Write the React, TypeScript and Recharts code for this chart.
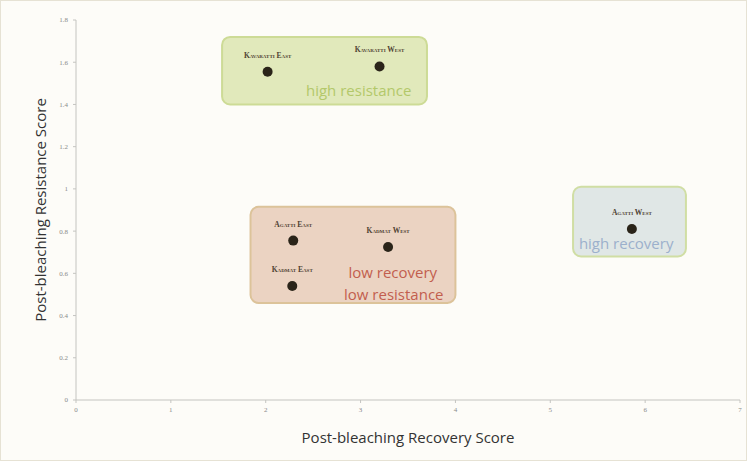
import React from 'react';
import { ScatterChart, Scatter, XAxis, YAxis, ReferenceArea, Label } from 'recharts';

const siteNames = ['Kavaratti East', 'Kavaratti West', 'Agatti East', 'Kadmat West', 'Kadmat East', 'Agatti West'];
const recoveryScores = [2.02, 3.2, 2.29, 3.29, 2.28, 5.86];
const resistanceScores = [1.555, 1.58, 0.755, 0.725, 0.54, 0.81];

const xTicks = [0, 1, 2, 3, 4, 5, 6, 7];
const yTicks = [0, 0.2, 0.4, 0.6, 0.8, 1, 1.2, 1.4, 1.6, 1.8];

const groupNames = ['high resistance', 'low', 'high recovery'];
const groupX1 = [1.54, 1.84, 5.24];
const groupX2 = [3.7, 4.0, 6.43];
const groupY1 = [1.4, 0.46, 0.68];
const groupY2 = [1.72, 0.915, 1.01];
const groupFill = ['#e1e9bb', '#ebd3c2', '#e0e7e6'];
const groupStroke = ['#cddb96', '#dcc39a', '#d0dea4'];

const noteTexts = ['high resistance', 'low recovery', 'low resistance', 'high recovery'];
const noteX = [2.98, 3.34, 3.35, 5.8];
const noteY = [1.47, 0.605, 0.5, 0.745];
const noteColors = ['#b3c86a', '#c25e4e', '#c25e4e', '#9cb0cc'];

const sites = siteNames.map((name, i) => ({ name, x: recoveryScores[i], y: resistanceScores[i] }));
const notes = noteTexts.map((t, i) => ({ t, x: noteX[i], y: noteY[i], c: noteColors[i] }));

const SiteShape = (props: any) => {
  const { cx, cy, payload } = props;
  return (
    <g>
      <circle cx={cx} cy={cy} r={5} fill="#2a2419" />
      <text
        x={cx}
        y={cy - 14}
        textAnchor="middle"
        fontSize={7.5}
        fontWeight="bold"
        fill="#4f4232"
        fontFamily="Liberation Serif, serif"
        style={{ fontVariant: 'small-caps' }}
      >
        {payload.name}
      </text>
    </g>
  );
};

const NoteShape = (props: any) => {
  const { cx, cy, payload } = props;
  return (
    <text x={cx} y={cy} textAnchor="middle" dominantBaseline="central" fontSize={15} fill={payload.c} fontFamily="Open Sans, sans-serif">
      {payload.t}
    </text>
  );
};

export default function App() {
  return (
    <div style={{ position: 'absolute', left: 0, top: 0, width: 747, height: 461, background: '#fdfcf8', boxSizing: 'border-box', border: '1px solid #e6e2d4' }}>
      <ScatterChart width={745} height={459} margin={{ top: 19, right: 6, bottom: 0, left: 0 }}>
        <XAxis
          type="number"
          dataKey="x"
          domain={[0, 7]}
          ticks={xTicks}
          height={60}
          stroke="#c4c4c0"
          tick={{ fontSize: 7, fill: '#8a8a8a' }}
          tickSize={3}
          tickMargin={4}
        >
          <Label value="Post-bleaching Recovery Score" position="center" dy={8} fontSize={15} fill="#333" fontFamily="Open Sans, sans-serif" />
        </XAxis>
        <YAxis
          type="number"
          dataKey="y"
          domain={[0, 1.8]}
          ticks={yTicks}
          width={75}
          stroke="#c4c4c0"
          tick={{ fontSize: 7, fill: '#8a8a8a' }}
          tickSize={3}
          tickMargin={5}
        >
          <Label value="Post-bleaching Resistance Score" angle={-90} position="center" dx={2} fontSize={15} fill="#333" fontFamily="Open Sans, sans-serif" />
        </YAxis>
        {groupNames.map((g, i) => (
          <ReferenceArea
            key={g}
            x1={groupX1[i]}
            x2={groupX2[i]}
            y1={groupY1[i]}
            y2={groupY2[i]}
            fill={groupFill[i]}
            fillOpacity={1}
            stroke={groupStroke[i]}
            strokeWidth={2}
            radius={8}
            ifOverflow="visible"
          />
        ))}
        <Scatter data={notes} shape={NoteShape} isAnimationActive={false} />
        <Scatter data={sites} shape={SiteShape} isAnimationActive={false} />
      </ScatterChart>
    </div>
  );
}
